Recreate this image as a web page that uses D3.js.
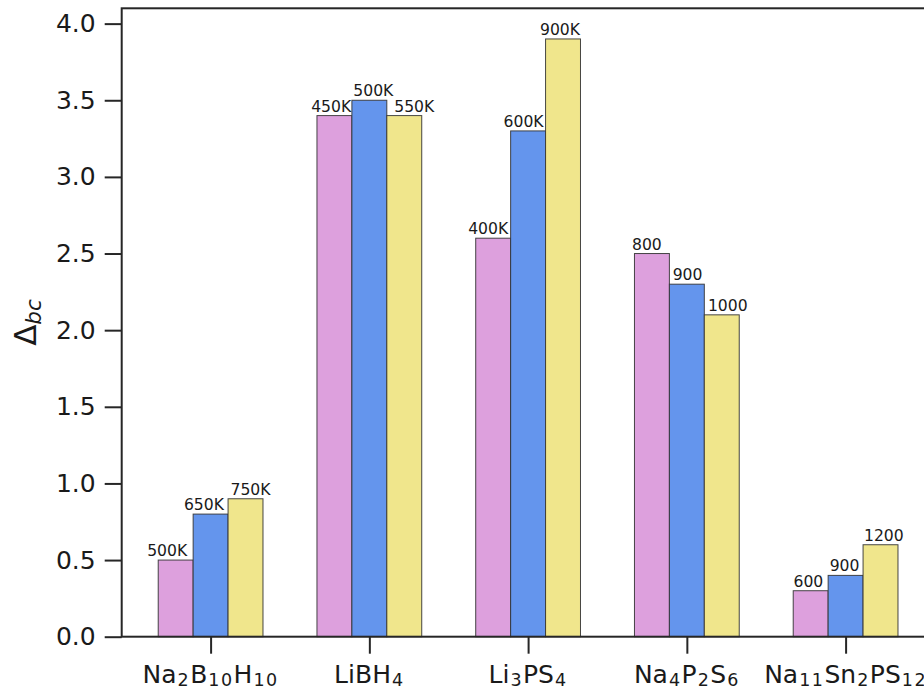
<!DOCTYPE html>
<html>
<head>
<meta charset="utf-8">
<script src="https://cdn.jsdelivr.net/npm/d3@7/dist/d3.min.js"></script>
<style>
  html, body { margin: 0; padding: 0; background: #fff; }
  svg { display: block; overflow: hidden; }
  text { font-family: "DejaVu Sans", sans-serif; fill: #1a1a1a; }
</style>
</head>
<body>
<svg id="chart" width="924" height="689"></svg>
<script>
// Compounds on the x axis; each entry is a list of [text, isSubscript] pieces
const categories = [
  [["Na", 0], ["2", 1], ["B", 0], ["10", 1], ["H", 0], ["10", 1]],
  [["LiBH", 0], ["4", 1]],
  [["Li", 0], ["3", 1], ["PS", 0], ["4", 1]],
  [["Na", 0], ["4", 1], ["P", 0], ["2", 1], ["S", 0], ["6", 1]],
  [["Na", 0], ["11", 1], ["Sn", 0], ["2", 1], ["PS", 0], ["12", 1]]
];

// Delta_bc for the low / mid / high temperature of each compound
const seriesLow  = [0.5, 3.4, 2.6, 2.5, 0.3];
const seriesMid  = [0.8, 3.5, 3.3, 2.3, 0.4];
const seriesHigh = [0.9, 3.4, 3.9, 2.1, 0.6];

// Temperature annotations above each bar
const labelsLow  = ["500K", "450K", "400K", "800", "600"];
const labelsMid  = ["650K", "500K", "600K", "900", "900"];
const labelsHigh = ["750K", "550K", "900K", "1000", "1200"];

const yTicks = [0, 0.5, 1.0, 1.5, 2.0, 2.5, 3.0, 3.5, 4.0];

// ---- layout ----
const axLeft = 121.7, axBottom = 636.7, axTop = 8.3;
const unit = 158.75;                 // pixels per category step
const barW = 0.22;                   // bar width in category units
const colors = ["#DDA0DD", "#6495ED", "#F0E68C"];
// small horizontal shifts (px) so neighbouring annotations don't collide
const labelNudge = [
  [-8.5, -6.7, 5], [-3.3, 4, 10], [-5, -4.5, -3], [-5, 0.7, 6], [-2.3, -1, 3.3]
];

const svg = d3.select("#chart");

const x = d3.scaleLinear()
  .domain([-0.56, 4.56])
  .range([axLeft, axLeft + 5.12 * unit]);
const y = d3.scaleLinear()
  .domain([0, 4.1])
  .range([axBottom, axTop]);

const series = [seriesLow, seriesMid, seriesHigh];
const seriesLabels = [labelsLow, labelsMid, labelsHigh];

// bars
series.forEach((vals, s) => {
  const off = (s - 1) * barW;
  svg.append("g").selectAll("rect")
    .data(vals)
    .join("rect")
    .attr("x", (d, i) => x(i + off - barW / 2))
    .attr("width", x(barW) - x(0))
    .attr("y", d => y(d))
    .attr("height", d => y(0) - y(d))
    .attr("fill", colors[s])
    .attr("stroke", "#333")
    .attr("stroke-opacity", 0.9)
    .attr("stroke-width", 1);
});

// value annotations
series.forEach((vals, s) => {
  const off = (s - 1) * barW;
  svg.append("g").selectAll("text")
    .data(vals)
    .join("text")
    .attr("x", (d, i) => x(i + off) + labelNudge[i][s])
    .attr("y", d => y(d) - 4)
    .attr("text-anchor", "middle")
    .attr("font-size", "15.6px")
    .text((d, i) => seriesLabels[s][i]);
});

// frame
const frameColor = "#262626";
const xEnd = x(4.56);
svg.append("rect")
  .attr("x", axLeft).attr("y", axTop)
  .attr("width", xEnd - axLeft).attr("height", axBottom - axTop)
  .attr("fill", "none").attr("stroke", frameColor).attr("stroke-width", 2);

// y axis
const yAxis = d3.axisLeft(y)
  .tickValues(yTicks)
  .tickFormat(d3.format(".1f"))
  .tickSize(17)
  .tickPadding(9);
const gy = svg.append("g").attr("transform", `translate(${axLeft},0)`).call(yAxis);
gy.select(".domain").remove();
gy.selectAll(".tick line").attr("stroke", frameColor).attr("stroke-width", 2);
gy.selectAll(".tick text")
  .attr("font-size", "25px")
  .attr("font-family", "DejaVu Sans, sans-serif")
  .attr("fill", "#1a1a1a");

// x axis with subscripted formulas
const xAxis = d3.axisBottom(x)
  .tickValues(d3.range(categories.length))
  .tickSize(17)
  .tickFormat(() => "");
const gx = svg.append("g").attr("transform", `translate(0,${axBottom})`).call(xAxis);
gx.select(".domain").remove();
gx.selectAll(".tick line").attr("stroke", frameColor).attr("stroke-width", 2);
gx.selectAll(".tick text").remove();

categories.forEach((parts, i) => {
  const t = svg.append("text")
    .attr("x", x(i))
    .attr("y", 682.5)
    .attr("text-anchor", "middle")
    .attr("font-size", "25px");
  let sub = false;
  parts.forEach(([str, isSub]) => {
    const ts = t.append("tspan").text(str);
    if (isSub) {
      ts.attr("font-size", "17.5px").attr("letter-spacing", "1.5px");
      if (!sub) ts.attr("dy", 3.5).attr("dx", 1);
      sub = true;
    } else if (sub) {
      ts.attr("dy", -3.5);
      sub = false;
    }
  });
});

// y axis title: Delta with italic subscript "bc"
const yl = svg.append("text")
  .attr("transform", `translate(36,${(axTop + axBottom) / 2}) rotate(-90)`)
  .attr("text-anchor", "middle")
  .attr("font-size", "31px");
yl.append("tspan").text("Δ");
yl.append("tspan").text("bc")
  .attr("font-size", "21.5px")
  .attr("font-style", "italic")
  .attr("dy", 5);
</script>
</body>
</html>
